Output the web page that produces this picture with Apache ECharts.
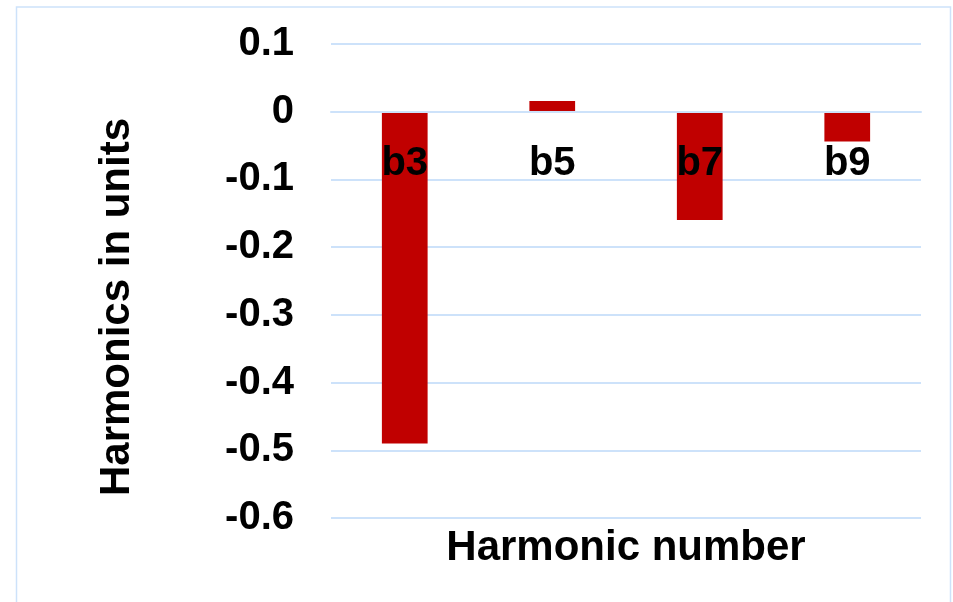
<!DOCTYPE html>
<html>
<head>
<meta charset="utf-8">
<script src="https://cdn.jsdelivr.net/npm/echarts@6/dist/echarts.min.js"></script>
<style>
  html, body { margin: 0; padding: 0; background: #ffffff; }
  #chart { width: 953px; height: 602px; }
</style>
</head>
<body>
<div id="chart"></div>
<script>
// Harmonic coefficients (units)
const harmonics = ['b3', 'b5', 'b7', 'b9'];
const values = [-0.49, 0.016, -0.16, -0.044];
const yMin = -0.6;
const yMax = 0.1;
const yStep = 0.1;

const FONT = '"Liberation Sans", Arial, sans-serif';
const GRID_BLUE = '#cde2fa';

const chart = echarts.init(document.getElementById('chart'));
chart.setOption({
  animation: false,
  backgroundColor: '#ffffff',
  grid: {
    left: 331, right: 32, top: 44, bottom: 84,
    containLabel: false,
    outerBoundsMode: 'none'
  },
  graphic: [{
    type: 'rect',
    shape: { x: 16.5, y: 7, width: 934, height: 620 },
    style: { fill: 'none', stroke: GRID_BLUE, lineWidth: 1.5 },
    silent: true
  }],
  xAxis: {
    type: 'category',
    data: harmonics,
    axisLine: { show: true, onZero: false, lineStyle: { color: GRID_BLUE, width: 2 } },
    axisTick: { show: false },
    axisLabel: {
      margin: 32,
      fontFamily: FONT, fontWeight: 'bold', fontSize: 40, color: '#000000'
    },
    name: 'Harmonic number',
    nameLocation: 'middle',
    nameGap: 416,
    nameTextStyle: { fontFamily: FONT, fontWeight: 'bold', fontSize: 42, color: '#000000' },
    z: 5
  },
  yAxis: {
    type: 'value',
    min: yMin, max: yMax, interval: yStep,
    axisLine: { show: false },
    axisTick: { show: false },
    splitLine: { lineStyle: { color: GRID_BLUE, width: 2 } },
    axisLabel: {
      margin: 37,
      fontFamily: FONT, fontWeight: 'bold', fontSize: 40, color: '#000000',
      formatter: v => String(Math.round(v * 10) / 10)
    },
    name: 'Harmonics in units',
    nameLocation: 'middle',
    nameRotate: 90,
    nameGap: 193,
    nameTextStyle: {
      fontFamily: FONT, fontWeight: 'bold', fontSize: 42, color: '#000000',
      padding: [0, 52, 0, 0]
    }
  },
  series: [{
    type: 'bar',
    data: values,
    barWidth: '31%',
    itemStyle: { color: '#c00000' },
    z: 2
  }]
});

// Lift the category axis from the bottom edge up to the value-axis zero line
const zeroY = chart.convertToPixel({ yAxisIndex: 0 }, 0);
const baseY = chart.convertToPixel({ yAxisIndex: 0 }, yMin);
chart.setOption({ xAxis: { offset: zeroY - baseY } });
</script>
</body>
</html>
